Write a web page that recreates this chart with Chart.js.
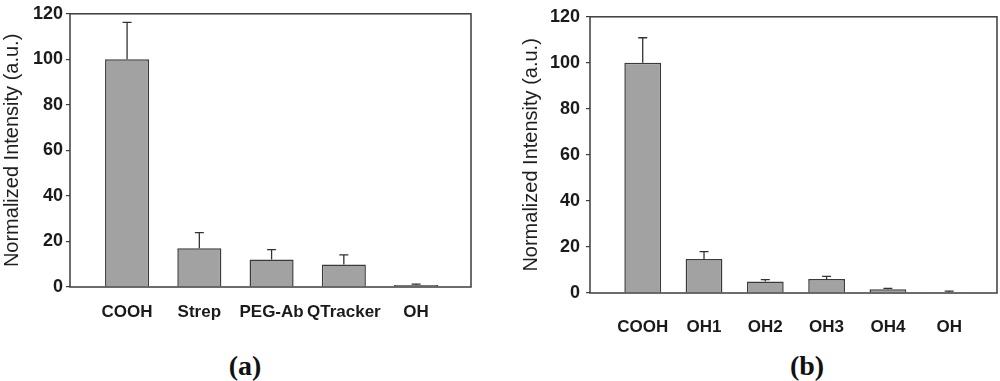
<!DOCTYPE html>
<html>
<head>
<meta charset="utf-8">
<script src="https://cdn.jsdelivr.net/npm/chart.js@4.4.1/dist/chart.umd.min.js"></script>
<style>
  body { margin: 0; background: #fff; }
  .wrap { position: relative; width: 1000px; height: 381px; }
  canvas { position: absolute; top: 0; }
  .tag { position: absolute; top: 350px; font: bold 28px "Liberation Serif", serif; color: #111; transform: translateX(-50%); }
</style>
</head>
<body>
<div class="wrap">
  <canvas id="chartA" width="480" height="330" style="left:0"></canvas>
  <canvas id="chartB" width="500" height="340" style="left:500px"></canvas>
  <div class="tag" style="left:245px">(a)</div>
  <div class="tag" style="left:807px">(b)</div>
</div>
<script>
// panel (a)
const labelsA = ["COOH", "Strep", "PEG-Ab", "QTracker", "OH"];
const valuesA = [100, 17, 12.1, 9.9, 0.9];
const errorsA = [16.2, 6.9, 4.3, 4.2, 0.4];

// panel (b)
const labelsB = ["COOH", "OH1", "OH2", "OH3", "OH4", "OH"];
const valuesB = [100, 14.8, 5.0, 6.1, 1.6, 0.3];
const errorsB = [10.9, 3.2, 0.8, 1.1, 0.4, 0.5];

const yTicks = [0, 20, 40, 60, 80, 100, 120];

const FONT = "'Liberation Sans', Arial, sans-serif";

// frame round the plot area + upward error bars with caps
const boxAndErrors = {
    id: "boxAndErrors",
    afterDatasetsDraw(chart, args, opts) {
        const { ctx, chartArea: a, scales } = chart;
        ctx.save();
        ctx.strokeStyle = "#3c3c3c";
        ctx.lineWidth = 1.5;
        ctx.strokeRect(a.left, a.top, a.right - a.left, a.bottom - a.top);

        const vals = chart.data.datasets[0].data;
        ctx.lineWidth = 1.3;
        ctx.strokeStyle = "#333";
        opts.errors.forEach((e, i) => {
            const x = scales.x.getPixelForValue(vals[i].x);
            const y0 = scales.y.getPixelForValue(vals[i].y);
            const y1 = scales.y.getPixelForValue(vals[i].y + e);
            ctx.beginPath();
            ctx.moveTo(x, y0);
            ctx.lineTo(x, y1);
            ctx.moveTo(x - 4.5, y1);
            ctx.lineTo(x + 4.5, y1);
            ctx.stroke();
        });
        ctx.restore();
    },
};

function makeChart(id, labels, values, errors, g) {
    const canvas = document.getElementById(id);
    return new Chart(canvas, {
        type: "bar",
        data: {
            datasets: [
                {
                    data: values.map((v, i) => ({ x: i, y: v })),
                    backgroundColor: "#a2a2a2",
                    borderColor: "#3a3a3a",
                    borderWidth: 1.5,
                    categoryPercentage: 1,
                    barPercentage: g.barPct,
                },
            ],
        },
        options: {
            responsive: false,
            animation: false,
            devicePixelRatio: 1,
            layout: { padding: g.pad },
            scales: {
                x: {
                    type: "linear",
                    offset: false,
                    min: g.xmin,
                    max: g.xmax,
                    afterBuildTicks: (s) => { s.ticks = labels.map((_, i) => ({ value: i })); },
                    afterFit: (s) => { s.height = g.xh; },
                    grid: { display: false, offset: false },
                    border: { display: false },
                    ticks: {
                        callback: (v) => labels[v],
                        color: "#1a1a1a",
                        font: { family: FONT, size: 17, weight: "bold" },
                        padding: g.xpad,
                        maxRotation: 0,
                        autoSkip: false,
                    },
                },
                y: {
                    min: 0,
                    max: 120,
                    afterBuildTicks: (s) => { s.ticks = yTicks.map((v) => ({ value: v })); },
                    afterFit: (s) => { s.width = g.yw; },
                    grid: { drawOnChartArea: false, drawTicks: true, tickLength: 4, color: "#3c3c3c", lineWidth: 1.2 },
                    border: { display: false },
                    ticks: {
                        color: "#1a1a1a",
                        font: { family: FONT, size: 18, weight: "bold" },
                        padding: g.ypad,
                    },
                    title: {
                        display: true,
                        text: "Normalized Intensity (a.u.)",
                        color: "#1e1e1e",
                        font: { family: FONT, size: 20 },
                        padding: { top: g.tpad, bottom: 0 },
                    },
                },
            },
            plugins: {
                legend: { display: false },
                tooltip: { enabled: false },
                boxAndErrors: { errors: errors },
            },
        },
        plugins: [boxAndErrors],
    });
}

makeChart("chartA", labelsA, valuesA, errorsA, {
    pad: { left: 0, top: 9, right: 9, bottom: 0 },
    xmin: -0.79, xmax: 4.76, barPct: 0.61,
    xh: 43, xpad: 7, yw: 70, ypad: 3, tpad: 0,
});

makeChart("chartB", labelsB, valuesB, errorsB, {
    pad: { left: 0, top: 11, right: 3, bottom: 0 },
    xmin: -0.86, xmax: 5.78, barPct: 0.6,
    xh: 47, xpad: 16, yw: 90, ypad: 6, tpad: 19,
});
</script>
</body>
</html>
